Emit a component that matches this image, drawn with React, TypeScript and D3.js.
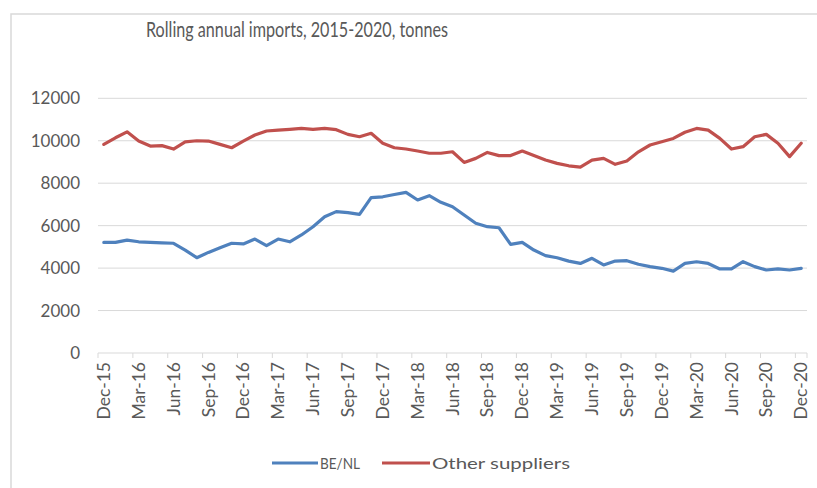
import React from "react";
import * as d3 from "d3";

const months: string[] = [];
const monthNames = ["Jan","Feb","Mar","Apr","May","Jun","Jul","Aug","Sep","Oct","Nov","Dec"];
// Dec-15 .. Dec-20 (61 monthly categories)
for (let k = 0; k < 61; k++) {
  const m = (11 + k) % 12;
  const y = 15 + Math.floor((11 + k) / 12);
  months.push(`${monthNames[m]}-${y}`);
}

const beNl = [
  5210, 5210, 5320, 5240, 5210, 5190, 5170, 4850, 4490, 4740,
  4960, 5170, 5140, 5370, 5055, 5370, 5240, 5560, 5950, 6420,
  6660, 6610, 6530, 7320, 7360, 7470, 7570, 7210, 7410, 7100,
  6890, 6500, 6110, 5950, 5900, 5120, 5210, 4850, 4590, 4490,
  4330, 4220, 4460, 4150, 4330, 4350, 4180, 4070, 3990, 3860,
  4220, 4300, 4220, 3960, 3960, 4300, 4070, 3910, 3960, 3910,
  3990,
];

const otherSuppliers = [
  9830, 10140, 10420, 9990, 9750, 9770, 9610, 9950, 10000, 9985,
  9830, 9670, 9985, 10270, 10460, 10500, 10535, 10580, 10535, 10580,
  10520, 10300, 10190, 10350, 9880, 9670, 9610, 9515, 9410, 9410,
  9480, 8980, 9170, 9450, 9300, 9300, 9515, 9300, 9090, 8935,
  8820, 8760, 9090, 9170, 8890, 9050, 9480, 9800, 9950, 10110,
  10400, 10580, 10500, 10110, 9610, 9720, 10190, 10300, 9880, 9250,
  9880,
];

const yTicks = [0, 2000, 4000, 6000, 8000, 10000, 12000];
const seriesNames = ["BE/NL", "Other suppliers"];
const seriesColors = ["#4F81BD", "#C0504D"];

const W = 817;
const H = 488;
const FONT = "Lato, 'Open Sans', sans-serif";

export default function App() {
  const plotLeft = 98;
  const plotRight = 807;
  const plotTop = 98.3;
  const plotBottom = 353;

  const x = d3.scaleBand<string>().domain(months).range([plotLeft, plotRight]);
  const y = d3.scaleLinear().domain([0, 12000]).range([plotBottom, plotTop]);
  const cx = (m: string) => (x(m) as number) + x.bandwidth() / 2;

  const line = d3
    .line<number>()
    .x((_, i) => cx(months[i]))
    .y((d) => y(d));

  const labelIdx = months.map((_, i) => i).filter((i) => i % 3 === 0);

  return (
    <svg
      width={W}
      height={H}
      style={{ position: "absolute", left: 0, top: 0, background: "#fff" }}
    >
      <rect x={0} y={0} width={W} height={H} fill="#fff" />
      <rect x={11} y={14} width={W + 20} height={H + 20} fill="#fff" stroke="#d9d9d9" strokeWidth={1.5} />

      <text
        x={297}
        y={37}
        textAnchor="middle"
        fontFamily={FONT}
        fontSize={22}
        fill="#595959"
        textLength={302}
        lengthAdjust="spacingAndGlyphs"
      >
        Rolling annual imports, 2015-2020, tonnes
      </text>

      {yTicks.map((t) => (
        <g key={t}>
          {t > 0 && (
            <line
              x1={plotLeft}
              x2={plotRight}
              y1={y(t)}
              y2={y(t)}
              stroke="#d9d9d9"
              strokeWidth={1}
            />
          )}
          <text
            x={80}
            y={y(t)}
            dy="0.35em"
            textAnchor="end"
            fontFamily={FONT}
            fontSize={17}
            fill="#595959"
          >
            {t}
          </text>
        </g>
      ))}

      {/* category axis */}
      <line x1={plotLeft} x2={plotRight} y1={plotBottom} y2={plotBottom} stroke="#d9d9d9" strokeWidth={1} />
      {labelIdx.map((i) => (
        <line
          key={"tk" + i}
          x1={x(months[i]) as number}
          x2={x(months[i]) as number}
          y1={plotBottom}
          y2={plotBottom + 5}
          stroke="#d9d9d9"
        />
      ))}
      <line x1={plotRight} x2={plotRight} y1={plotBottom} y2={plotBottom + 5} stroke="#d9d9d9" />
      {labelIdx.map((i) => (
        <text
          key={"lb" + i}
          transform={`translate(${cx(months[i])},${plotBottom + 9}) rotate(-90)`}
          textAnchor="end"
          dy="0.35em"
          fontFamily={FONT}
          fontSize={17.5}
          fill="#595959"
        >
          {months[i]}
        </text>
      ))}

      <path d={line(beNl) || ""} fill="none" stroke={seriesColors[0]} strokeWidth={3.2} strokeLinejoin="round" strokeLinecap="round" />
      <path d={line(otherSuppliers) || ""} fill="none" stroke={seriesColors[1]} strokeWidth={3.2} strokeLinejoin="round" strokeLinecap="round" />

      {/* legend */}
      <line x1={272} x2={318} y1={463} y2={463} stroke={seriesColors[0]} strokeWidth={3.2} />
      <text x={320} y={463} dy="0.35em" fontFamily={FONT} fontSize={16} fill="#595959" textLength={40} lengthAdjust="spacingAndGlyphs">
        {seriesNames[0]}
      </text>
      <line x1={382} x2={430} y1={463} y2={463} stroke={seriesColors[1]} strokeWidth={3.2} />
      <text x={432} y={463} dy="0.35em" fontFamily={FONT} fontSize={16} fill="#595959" textLength={138} lengthAdjust="spacingAndGlyphs">
        {seriesNames[1]}
      </text>
    </svg>
  );
}
